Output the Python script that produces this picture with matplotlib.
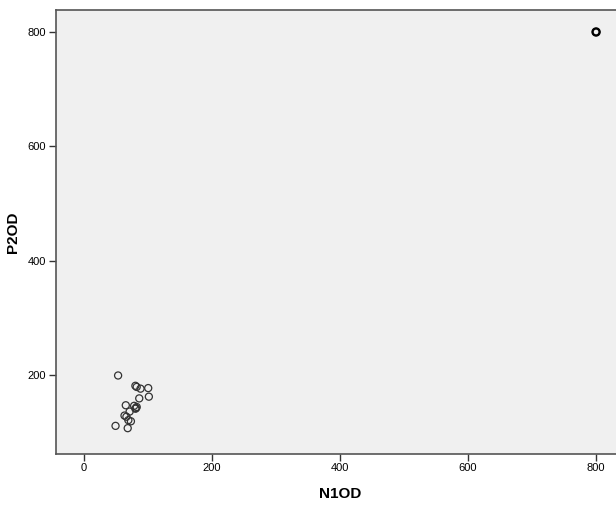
import matplotlib
matplotlib.use('Agg')
import matplotlib.pyplot as plt

plt.rcParams['font.family'] = ['Liberation Sans', 'DejaVu Sans']

# values
n1od = [800, 54, 81, 83, 89, 101, 102, 87, 79, 66, 82, 83, 81, 64, 67, 70, 74, 50, 69, 72]
p2od = [800, 200, 182, 180, 177, 178, 163, 160, 147, 148, 143, 145, 142, 130, 128, 122, 120, 112, 108, 137]

x_ticks = [0, 200, 400, 600, 800]
y_ticks = [200, 400, 600, 800]

fig = plt.figure(figsize=(6.16, 5.05), dpi=100)
ax = fig.add_axes([0.0901, 0.1016, 0.923, 0.8786])
ax.set_facecolor('#f0f0f0')

ax.scatter(n1od, p2od, s=26, facecolors='none', edgecolors='#333333', linewidths=0.9, zorder=3)
# outlier drawn bolder in the original (overlapping cases)
ax.scatter(n1od[:1], p2od[:1], s=26, facecolors='none', edgecolors='black', linewidths=1.7, zorder=3)

ax.set_xlim(-43.7, 843.7)
ax.set_ylim(63.4, 838.4)
ax.set_xticks(x_ticks)
ax.set_yticks(y_ticks)
ax.tick_params(direction='out', length=5, width=1.0, color='#333333', labelsize=8, pad=2)

for side in ['top', 'right', 'left', 'bottom']:
    ax.spines[side].set_color('#555555')
    ax.spines[side].set_linewidth(1.2)

ax.set_xlabel('N1OD', fontsize=11, fontweight='bold', labelpad=10)
ax.set_ylabel('P2OD', fontsize=11, fontweight='bold', labelpad=5)

fig.savefig('out.png', dpi=100)
